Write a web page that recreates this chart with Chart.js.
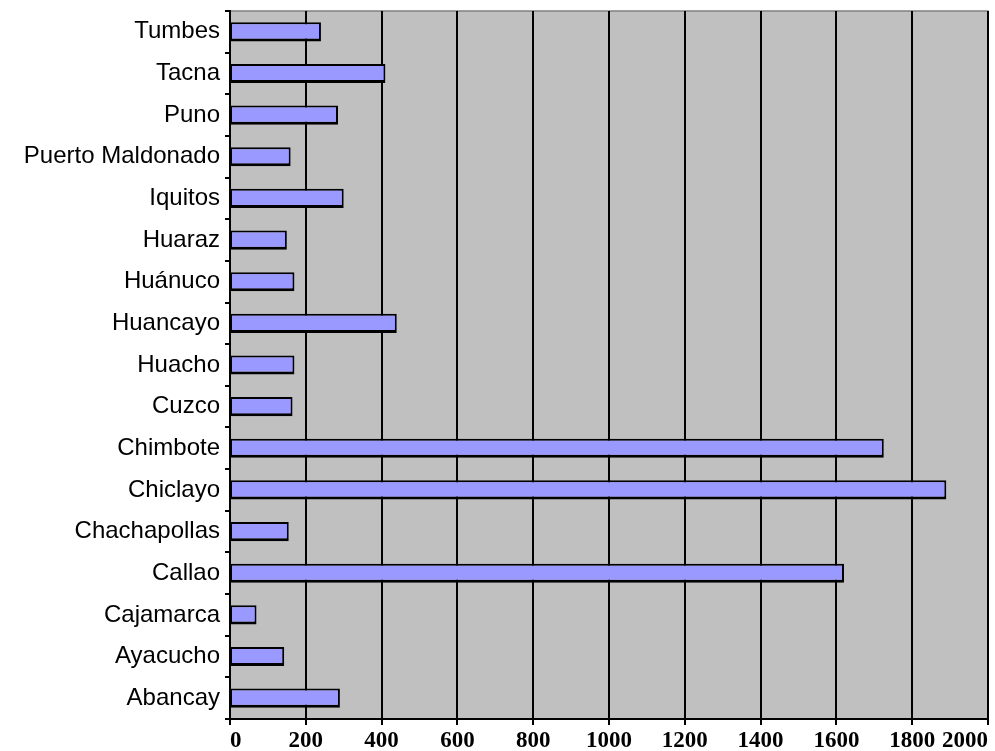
<!DOCTYPE html>
<html>
<head>
<meta charset="utf-8">
<script src="https://cdn.jsdelivr.net/npm/chart.js@4.4.1/dist/chart.umd.min.js"></script>
<style>
  html, body { margin: 0; padding: 0; background: #fff; }
  #wrap { width: 995px; height: 751px; }
</style>
</head>
<body>
<div id="wrap"><canvas id="chart"></canvas></div>
<script>
// categories (top to bottom)
const cities = ['Tumbes', 'Tacna', 'Puno', 'Puerto Maldonado', 'Iquitos', 'Huaraz', 'Huánuco',
  'Huancayo', 'Huacho', 'Cuzco', 'Chimbote', 'Chiclayo', 'Chachapollas', 'Callao',
  'Cajamarca', 'Ayacucho', 'Abancay'];

// values
const values = [240, 410, 285, 160, 300, 150, 170, 440, 170, 165, 1725, 1890, 155, 1620, 70, 143, 290];

const xTicks = [0, 200, 400, 600, 800, 1000, 1200, 1400, 1600, 1800, 2000];

// plot area background, like the old spreadsheet chart
const plotBackground = {
    id: 'plotBackground',
    beforeDraw(chart) {
        const { ctx, chartArea: a } = chart;
        ctx.save();
        ctx.fillStyle = '#c0c0c0';
        ctx.fillRect(a.left, a.top, a.right - a.left, a.bottom - a.top);
        ctx.strokeStyle = '#808080';
        ctx.lineWidth = 1.5;
        ctx.strokeRect(a.left, a.top, a.right - a.left, a.bottom - a.top);
        ctx.restore();
    }
};

// the labels of the original are spaced a little wider
const wideText = {
    id: 'wideText',
    beforeInit(chart) { chart.ctx.letterSpacing = '1px'; }
};

new Chart(document.getElementById('chart'), {
    type: 'bar',
    data: {
        labels: cities,
        datasets: [{
            data: values,
            backgroundColor: '#9999ff',
            borderColor: '#000',
            borderWidth: { top: 2, right: 2, bottom: 3, left: 1 },
            borderSkipped: false,
            categoryPercentage: 1,
            barPercentage: 0.46
        }]
    },
    options: {
        indexAxis: 'y',
        responsive: true,
        maintainAspectRatio: false,
        animation: false,
        layout: { padding: { top: 11, right: 7, left: 0, bottom: 0 } },
        plugins: {
            legend: { display: false },
            tooltip: { enabled: false }
        },
        scales: {
            x: {
                min: 0,
                max: 2000,
                afterBuildTicks(scale) {
                    scale.ticks = xTicks.map(v => ({ value: v }));
                },
                afterFit(scale) { scale.height = 32; },
                grid: { color: '#000', lineWidth: 2, tickLength: 6 },
                border: { color: '#000', width: 2 },
                ticks: {
                    align: 'inner',
                    padding: 2,
                    color: '#000',
                    callback: v => String(v),
                    font: { family: 'Liberation Serif', size: 23, weight: 'bold' }
                }
            },
            y: {
                afterFit(scale) {
                    scale.width = 230;
                    scale.paddingTop = 0;
                    scale.paddingBottom = 0;
                },
                grid: { drawOnChartArea: false, color: '#000', lineWidth: 2, tickLength: 5 },
                border: { color: '#000', width: 2 },
                ticks: {
                    padding: 5,
                    color: '#000',
                    font: { family: 'Liberation Sans', size: 24 }
                }
            }
        }
    },
    plugins: [wideText, plotBackground]
});
</script>
</body>
</html>
